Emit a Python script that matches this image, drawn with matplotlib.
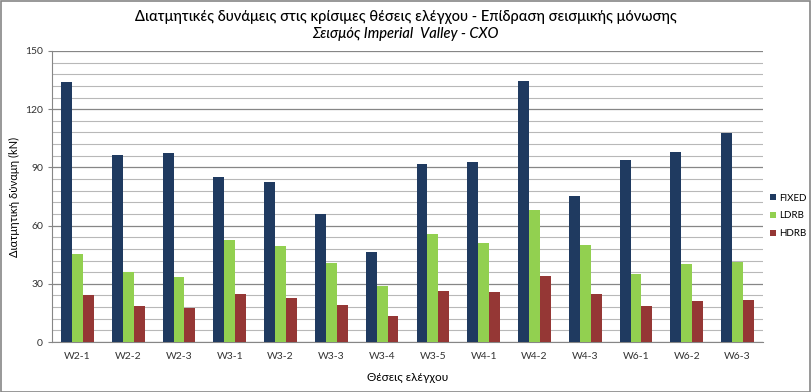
import matplotlib
matplotlib.use("Agg")
import matplotlib.pyplot as plt
import numpy as np
from matplotlib.patches import Rectangle

categories = ["W2-1", "W2-2", "W2-3", "W3-1", "W3-2", "W3-3", "W3-4",
              "W3-5", "W4-1", "W4-2", "W4-3", "W6-1", "W6-2", "W6-3"]
fixed = [134.0, 96.4, 97.5, 85.1, 82.6, 66.1, 46.5, 91.9, 92.9, 134.7, 75.4, 94.0, 98.1, 107.5]
ldrb = [45.4, 36.1, 33.5, 52.6, 49.6, 40.9, 29.0, 55.8, 51.2, 68.2, 50.2, 35.2, 40.4, 41.4]
hdrb = [24.2, 18.6, 17.7, 24.8, 22.8, 19.2, 13.6, 26.4, 25.9, 34.2, 24.9, 18.7, 21.3, 21.8]
series_names = ["FIXED", "LDRB", "HDRB"]
colors = ["#1F3A60", "#92D050", "#953735"]
yticks = [0, 30, 60, 90, 120, 150]

plt.rcParams['font.family'] = ['Lato', 'DejaVu Sans']

fig = plt.figure(figsize=(8.11, 3.92), dpi=100)
ax = fig.add_axes([52/811, 1-342/392, (763-52)/811, (342-51)/392])

x = np.arange(len(categories))
w = 0.215
for i, (vals, name, c) in enumerate(zip([fixed, ldrb, hdrb], series_names, colors)):
    ax.bar(x + (i-1)*w, vals, width=w, color=c, label=name, zorder=3)

ax.set_xlim(-0.5, len(categories)-0.5)
ax.set_ylim(0, 150)
ax.set_yticks(yticks)
ax.set_yticks(np.arange(0, 151, 6), minor=True)
ax.grid(axis='y', which='major', color='#868686', linewidth=0.9, zorder=0)
ax.grid(axis='y', which='minor', color='#B8B8B8', linewidth=0.8, zorder=0)
ax.set_xticks(x)
ax.set_xticklabels(categories, fontsize=7.5, color='#333333')
ax.tick_params(axis='x', length=0, pad=7)
ax.tick_params(axis='y', which='major', length=3, color='#868686', labelsize=7.5, labelcolor='#333333')
ax.tick_params(axis='y', which='minor', length=0)
for s in ['top', 'right']:
    ax.spines[s].set_visible(False)
ax.spines['left'].set_color('#868686')
ax.spines['bottom'].set_color('#868686')

ax.set_xlabel("Θέσεις ελέγχου", fontsize=8.5, labelpad=8)
ax.set_ylabel("Διατμητική δύναμη (kN)", fontsize=8, labelpad=4)

fig.text(0.5, 1-17/392, "Διατμητικές δυνάμεις στις κρίσιμες θέσεις ελέγχου - Επίδραση σεισμικής μόνωσης",
         ha='center', va='center', fontsize=10.5, fontweight='medium')
fig.text(0.5, 1-34/392, "Σεισμός Imperial  Valley - CXO", ha='center', va='center',
         fontsize=10.5, style='italic', fontweight='medium')

leg = fig.legend(loc='center left', bbox_to_anchor=(766/811, 1-216/392), frameon=False,
                 fontsize=7, handlelength=0.6, handleheight=0.6, handletextpad=0.4,
                 labelspacing=0.9, borderaxespad=0)

fig.patches.append(Rectangle((0.5/811, 0.5/392), 1-1.5/811, 1-1.5/392, transform=fig.transFigure,
                             fill=False, edgecolor='#868686', linewidth=1.2))

fig.savefig("out.png", dpi=100)
